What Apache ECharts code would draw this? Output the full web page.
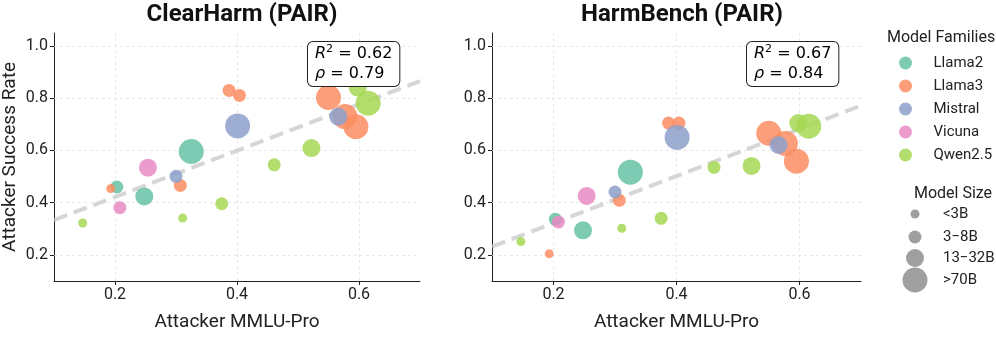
<!DOCTYPE html>
<html><head><meta charset="utf-8">
<script src="https://cdn.jsdelivr.net/npm/echarts@6/dist/echarts.min.js"></script>
<style>html,body{margin:0;padding:0;background:#fff}#c{width:996px;height:337px}</style>
</head><body><div id="c"></div>
<script>
// ---------- data ----------
const families = ['Llama2', 'Llama3', 'Mistral', 'Vicuna', 'Qwen2.5'];
const sizeClasses = ['<3B', '3\u22128B', '13\u221232B', '>70B'];
const chartTitles = ['ClearHarm (PAIR)', 'HarmBench (PAIR)'];
const xTicks = [0.2, 0.4, 0.6];
const yTicks = [0.2, 0.4, 0.6, 0.8, 1.0];
const r2Values = ['0.62', '0.67'];
const rhoValues = ['0.79', '0.84'];

const llama2_mmlu = [0.203, 0.248, 0.325];
const llama2_size = ['3\u22128B', '13\u221232B', '>70B'];
const llama2_clearharm = [0.460, 0.424, 0.596];
const llama2_harmbench = [0.337, 0.294, 0.517];

const llama3_mmlu = [0.193, 0.307, 0.387, 0.404, 0.550, 0.577, 0.595];
const llama3_size = ['<3B', '3\u22128B', '3\u22128B', '3\u22128B', '>70B', '>70B', '>70B'];
const llama3_clearharm = [0.454, 0.466, 0.830, 0.811, 0.803, 0.730, 0.691];
const llama3_harmbench = [0.204, 0.409, 0.705, 0.705, 0.666, 0.627, 0.559];

const mistral_mmlu = [0.300, 0.401, 0.566];
const mistral_size = ['3\u22128B', '>70B', '13\u221232B'];
const mistral_clearharm = [0.501, 0.694, 0.730];
const mistral_harmbench = [0.441, 0.650, 0.621];

const vicuna_mmlu = [0.208, 0.254];
const vicuna_size = ['3\u22128B', '13\u221232B'];
const vicuna_clearharm = [0.381, 0.534];
const vicuna_harmbench = [0.326, 0.426];

const qwen_mmlu = [0.147, 0.311, 0.375, 0.461, 0.522, 0.598, 0.615];
const qwen_size = ['<3B', '<3B', '3\u22128B', '3\u22128B', '13\u221232B', '13\u221232B', '>70B'];
const qwen_clearharm = [0.322, 0.341, 0.396, 0.545, 0.609, 0.841, 0.781];
const qwen_harmbench = [0.251, 0.302, 0.340, 0.535, 0.541, 0.705, 0.693];

const fit_clearharm = [[0.1, 0.333], [0.7, 0.866]];
const fit_harmbench = [[0.1, 0.232], [0.7, 0.772]];

// ---------- styling ----------
const famData = {
  'Llama2': [llama2_mmlu, llama2_size, llama2_clearharm, llama2_harmbench],
  'Llama3': [llama3_mmlu, llama3_size, llama3_clearharm, llama3_harmbench],
  'Mistral': [mistral_mmlu, mistral_size, mistral_clearharm, mistral_harmbench],
  'Vicuna': [vicuna_mmlu, vicuna_size, vicuna_clearharm, vicuna_harmbench],
  'Qwen2.5': [qwen_mmlu, qwen_size, qwen_clearharm, qwen_harmbench]
};
const famColor = {'Llama2':'#66c2a5','Llama3':'#fc8d62','Mistral':'#8da0cb','Vicuna':'#e78ac3','Qwen2.5':'#a6d854'};
const sizePx = {};
sizePx[sizeClasses[0]] = 9; sizePx[sizeClasses[1]] = 13; sizePx[sizeClasses[2]] = 18; sizePx[sizeClasses[3]] = 25;
const fits = [fit_clearharm, fit_harmbench];
const FONT = 'Roboto, "DejaVu Sans", sans-serif';
const GRIDLINE = {color: '#e3e3e3', width: 0.8, type: [3, 3]};

const grids = [
  {left: 52, top: 33, width: 368, height: 263},
  {left: 492, top: 33, width: 369, height: 263}
];

function xAxisFor(i) {
  return {
    type: 'value', gridIndex: i, min: 0.1, max: 0.7,
    name: 'Attacker MMLU-Pro', nameLocation: 'middle', nameGap: 32,
    nameTextStyle: {fontSize: 19, color: '#222', fontFamily: FONT},
    axisLine: {show: true, lineStyle: {color: '#222', width: 1}},
    axisTick: {show: true, length: 4, lineStyle: {color: '#222'}, customValues: xTicks},
    axisLabel: {fontSize: 16, color: '#222', fontFamily: FONT, margin: 6,
      customValues: xTicks, formatter: v => Number(v).toFixed(1)},
    splitLine: {show: false}
  };
}
function yAxisFor(i) {
  return {
    type: 'value', gridIndex: i, min: 0.1, max: 1.05,
    name: i === 0 ? 'Attacker Success Rate' : '', nameLocation: 'middle', nameGap: 34,
    nameTextStyle: {fontSize: 19, color: '#222', fontFamily: FONT},
    axisLine: {show: true, lineStyle: {color: '#222', width: 1}},
    axisTick: {show: true, length: 4, lineStyle: {color: '#222'}, customValues: yTicks},
    axisLabel: {fontSize: 16, color: '#222', fontFamily: FONT, margin: 6,
      customValues: yTicks, formatter: v => Number(v).toFixed(1)},
    splitLine: {show: false}
  };
}

const series = [];
[0, 1].forEach(ci => {
  series.push({
    type: 'line', xAxisIndex: ci, yAxisIndex: ci, data: fits[ci], symbol: 'none', silent: true, z: 2,
    lineStyle: {color: 'rgba(200,200,200,0.75)', width: 4, type: [14, 7]},
    markLine: {
      silent: true, symbol: 'none', label: {show: false}, z: 1,
      lineStyle: GRIDLINE, emphasis: {disabled: true},
      data: xTicks.map(t => ({xAxis: t})).concat(yTicks.map(t => ({yAxis: t})))
    }
  });
  families.forEach(f => {
    const [mm, sz, ch, hb] = famData[f];
    const ys = ci === 0 ? ch : hb;
    series.push({
      type: 'scatter', name: f, xAxisIndex: ci, yAxisIndex: ci, z: 3,
      data: mm.map((x, k) => [x, ys[k], sz[k]]),
      symbolSize: v => sizePx[v[2]],
      itemStyle: {color: famColor[f], opacity: 0.85}
    });
  });
});
sizeClasses.forEach(s => {
  series.push({type: 'scatter', name: s, xAxisIndex: 0, yAxisIndex: 0, data: [], itemStyle: {color: '#878787'}});
});

const legends = [{
  data: families.map(f => ({name: f, icon: 'circle'})),
  orient: 'vertical', left: 894, top: 50, itemWidth: 46, itemHeight: 13, itemGap: 7,
  selectedMode: false,
  textStyle: {fontSize: 15, color: '#222', fontFamily: FONT, lineHeight: 16}
}];
const sizeRowsY = [214, 237, 258, 280];
sizeClasses.forEach((s, k) => {
  const d = sizePx[s];
  legends.push({
    data: [{name: s, icon: 'circle'}], orient: 'vertical', left: 910 - d / 2,
    top: sizeRowsY[k] - Math.max(d, 16) / 2 - 5, itemWidth: 46, itemHeight: d,
    selectedMode: false,
    textStyle: {fontSize: 15, color: '#222', fontFamily: FONT, lineHeight: 16}
  });
});

const titles = [
  {text: chartTitles[0], left: 237, top: -2, textAlign: 'center', textStyle: {fontSize: 24, fontWeight: 'bold', color: '#111', fontFamily: FONT}},
  {text: chartTitles[1], left: 677, top: -2, textAlign: 'center', textStyle: {fontSize: 24, fontWeight: 'bold', color: '#111', fontFamily: FONT}},
  {text: 'Model Families', left: 882, top: 25, textStyle: {fontSize: 16, fontWeight: 'normal', color: '#222', fontFamily: FONT}},
  {text: 'Model Size', left: 948, top: 181, textAlign: 'center', textStyle: {fontSize: 16, fontWeight: 'normal', color: '#222', fontFamily: FONT}}
];

const MATH = '"DejaVu Sans", sans-serif';
const statRich = {
  i: {fontSize: 16, fontStyle: 'italic', fontFamily: MATH, color: '#111'},
  s: {fontSize: 11, fontFamily: MATH, color: '#111', verticalAlign: 'top', padding: [0, 0, 8, 0]},
  n: {fontSize: 16, fontFamily: MATH, color: '#111'}
};
const boxCenters = [352, 791];
const graphic = [0, 1].map(ci => ({
  type: 'text', left: boxCenters[ci] - 45, top: 41, z: 10,
  style: {
    text: '{i|R}{s|2}{n| = ' + r2Values[ci] + '}\n{i|\u03c1}{n| = ' + rhoValues[ci] + '}',
    rich: statRich, align: 'center', lineHeight: 20,
    backgroundColor: '#fff', borderColor: '#222', borderWidth: 1, borderRadius: 5,
    padding: [2, 7, 2, 7]
  }
}));

const chart = echarts.init(document.getElementById('c'), null, {renderer: 'canvas'});
chart.setOption({
  animation: false,
  backgroundColor: '#fff',
  title: titles,
  grid: grids,
  xAxis: [xAxisFor(0), xAxisFor(1)],
  yAxis: [yAxisFor(0), yAxisFor(1)],
  legend: legends,
  series: series,
  graphic: graphic
});
</script></body></html>
